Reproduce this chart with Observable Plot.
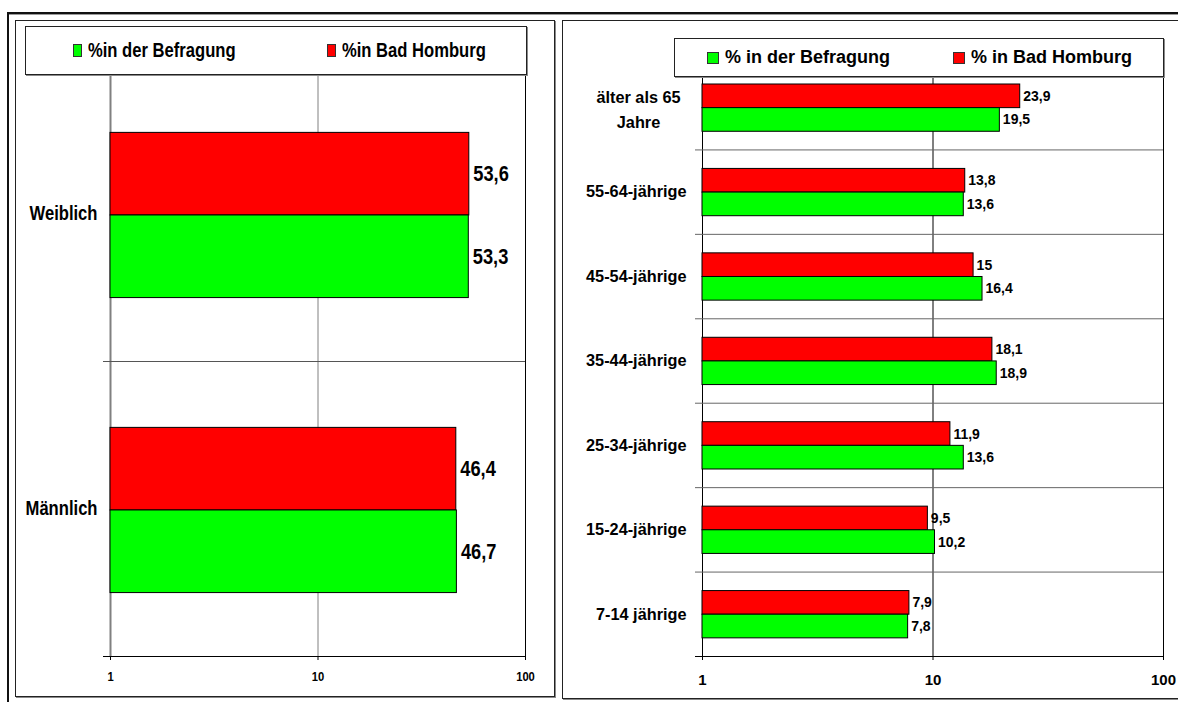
<!DOCTYPE html>
<html>
<head>
<meta charset="utf-8">
<script src="https://cdn.jsdelivr.net/npm/d3@7"></script>
<script src="https://cdn.jsdelivr.net/npm/@observablehq/plot@0.6"></script>
<style>
  html, body { margin: 0; padding: 0; background: #fff; }
  body { font-family: "Liberation Sans", Arial, sans-serif; }
  #page { position: relative; width: 1178px; height: 702px; overflow: hidden; background: #fff; }
  .line { position: absolute; }
  .panel { position: absolute; box-sizing: border-box; border: 1px solid #222; box-shadow: 1px 1px 0 #8a8a8a; }
  .chart { position: absolute; top: 0; }
  .legend { position: absolute; box-sizing: border-box; background: #fff; border: 1px solid #222;
            box-shadow: 1px 1px 0 #8a8a8a; font-weight: bold; color: #000; }
  .item { position: absolute; display: flex; align-items: center; white-space: nowrap; }
  .swatch { display: inline-block; box-sizing: border-box; border: 1px solid #333; flex: none; }
  .label { display: inline-block; transform-origin: left center; }
</style>
</head>
<body>
<div id="page">
  <div class="line" style="left:7px;top:12px;width:1171px;height:2px;background:#111"></div>
  <div class="line" style="left:9px;top:14px;width:1169px;height:1px;background:#9a9a9a"></div>
  <div class="line" style="left:7px;top:12px;width:2px;height:690px;background:#111"></div>
  <div class="panel" style="left:15px;top:20px;width:540px;height:677px"></div>
  <div class="panel" style="left:562px;top:20px;width:630px;height:679px"></div>
  <div class="chart" id="gender" style="left:0px"></div>
  <div class="chart" id="age" style="left:560px"></div>
  <div class="legend" id="legend-gender" style="left:25px;top:26px;width:502px;height:49px"></div>
  <div class="legend" id="legend-age" style="left:674px;top:38px;width:490px;height:39px"></div>
</div>
<script>
// Share of respondents vs. share of Bad Homburg population, in percent
const seriesNames = ["% in der Befragung", "% in Bad Homburg"];
const seriesColors = ["#00ff00", "#ff0000"];

const genderCategories = ["Weiblich", "Männlich"];
const genderSurvey = [53.3, 46.7];
const genderCity = [53.6, 46.4];

const ageCategories = ["älter als 65\nJahre", "55-64-jährige", "45-54-jährige", "35-44-jährige",
                       "25-34-jährige", "15-24-jährige", "7-14 jährige"];
const ageSurvey = [19.5, 13.6, 16.4, 18.9, 13.6, 10.2, 7.8];
const ageCity = [23.9, 13.8, 15, 18.1, 11.9, 9.5, 7.9];

const xTicks = [1, 10, 100];

const font = "'Liberation Sans', Arial, sans-serif";
// the gender panel uses a horizontally condensed type
const condense = 0.83;

// German decimal comma
const fmt = (v) => String(v).replace(".", ",");

// Each category occupies one unit on a linear y scale; the two bars sit in its middle,
// Bad Homburg above, Befragung below.
function rowsFor(cats, survey, city) {
  const rows = [];
  cats.forEach((cat, i) => {
    rows.push({cat, i, series: 1, value: city[i], y1: i + 0.225, y2: i + 0.505});
    rows.push({cat, i, series: 0, value: survey[i], y1: i + 0.505, y2: i + 0.785});
  });
  return rows;
}

function barPanel(o) {
  const n = o.cats.length;
  const rows = rowsFor(o.cats, o.survey, o.city);
  const labels = o.cats.map((cat, i) => ({cat, i}));
  const single = labels.filter((d) => !d.cat.includes("\n"));
  const multi = labels.filter((d) => d.cat.includes("\n"));
  const textStyle = {fontWeight: "bold", fill: "#000"};
  return Plot.plot({
    width: o.width,
    height: 702,
    marginLeft: o.marginLeft,
    marginRight: o.marginRight,
    marginTop: o.marginTop,
    marginBottom: o.marginBottom,
    style: {background: "transparent", overflow: "visible", fontFamily: font, fontSize: o.tickSize + "px"},
    x: {type: "log", domain: [1, 100]},
    y: {domain: [0, n], reverse: true, axis: null},
    marks: [
      // vertical gridlines at the decades
      Plot.ruleX(xTicks.slice(1, 2), {stroke: o.midGrid, strokeWidth: 1}),
      Plot.ruleX(xTicks.slice(2), {stroke: "#000", strokeWidth: 1}),
      Plot.ruleX(xTicks.slice(0, 1), {stroke: o.axisColor, strokeWidth: o.axisWidth}),
      // category separators, the last one doubling as the value axis line
      Plot.ruleY(d3.range(1, n + 1), {stroke: (d) => d === n ? "#000" : o.sepColor, strokeWidth: 1, insetLeft: -7}),
      Plot.axisX(xTicks, {
        tickSize: 4, tickPadding: o.tickPadding, tickFormat: (d) => String(d),
        fontSize: o.tickSize, fontWeight: "bold", label: null, stroke: "#000"
      }),
      Plot.rect(rows.filter((d) => d.series === 1), {
        x1: 1, x2: "value", y1: "y1", y2: "y2", fill: seriesColors[1], stroke: "#000", strokeWidth: 1
      }),
      Plot.rect(rows.filter((d) => d.series === 0), {
        x1: 1, x2: "value", y1: "y1", y2: "y2", fill: seriesColors[0], stroke: "#000", strokeWidth: 1
      }),
      Plot.text(rows, {
        x: "value", y: (d) => (d.y1 + d.y2) / 2, text: (d) => fmt(d.value),
        textAnchor: "start", dx: o.valueDx, fontSize: o.valueSize, ...textStyle
      }),
      Plot.text(single, {
        x: 1, y: (d) => d.i + 0.5, text: "cat", textAnchor: "end", dx: o.labelDx,
        fontSize: o.labelSize, ...textStyle
      }),
      Plot.text(multi, {
        x: 1, y: (d) => d.i + 0.5, text: "cat", textAnchor: "middle", dx: o.multiDx,
        lineHeight: 1.55, fontSize: o.labelSize, ...textStyle
      })
    ]
  });
}

// squeeze single-line SVG texts horizontally, keeping their anchor
function condenseTexts(svg, factor) {
  svg.querySelectorAll("text").forEach((t) => {
    if (t.querySelector("tspan")) return;
    const w = t.getComputedTextLength();
    if (w > 0) {
      t.setAttribute("textLength", (w * factor).toFixed(2));
      t.setAttribute("lengthAdjust", "spacingAndGlyphs");
    }
  });
}

const genderChart = barPanel({
  cats: genderCategories, survey: genderSurvey, city: genderCity,
  width: 560, marginLeft: 110, marginRight: 35, marginTop: 66, marginBottom: 46,
  midGrid: "#808080", axisColor: "#808080", axisWidth: 2, sepColor: "#555",
  tickSize: 13.5, tickPadding: 11,
  valueDx: 4, valueSize: 22, labelDx: -13, labelSize: 20, multiDx: -60
});
document.getElementById("gender").appendChild(genderChart);
condenseTexts(genderChart, condense);

const ageChart = barPanel({
  cats: ageCategories, survey: ageSurvey, city: ageCity,
  width: 618, marginLeft: 142, marginRight: 15, marginTop: 65, marginBottom: 46,
  midGrid: "#000", axisColor: "#000", axisWidth: 1, sepColor: "#666",
  tickSize: 15, tickPadding: 14,
  valueDx: 3, valueSize: 14, labelDx: -16, labelSize: 16.3, multiDx: -64
});
document.getElementById("age").appendChild(ageChart);

// Legends: Befragung first, then Bad Homburg
function legend(id, names, opts) {
  const box = document.getElementById(id);
  box.style.fontFamily = font;
  box.style.fontSize = opts.fontSize + "px";
  names.forEach((name, k) => {
    const item = document.createElement("div");
    item.className = "item";
    item.style.left = opts.lefts[k] + "px";
    item.style.top = "0px";
    item.style.height = "100%";
    const sw = document.createElement("span");
    sw.className = "swatch";
    sw.style.width = opts.swatch[0] + "px";
    sw.style.height = opts.swatch[1] + "px";
    sw.style.background = seriesColors[k];
    sw.style.marginRight = opts.gap + "px";
    const label = document.createElement("span");
    label.className = "label";
    label.style.transform = `scaleX(${opts.scale})`;
    label.textContent = opts.compact ? name.replace("% ", "%") : name;
    item.appendChild(sw);
    item.appendChild(label);
    box.appendChild(item);
  });
}
legend("legend-gender", seriesNames, {fontSize: 20, scale: condense, lefts: [47, 301], swatch: [9, 13], gap: 6, compact: true});
legend("legend-age", seriesNames, {fontSize: 18, scale: 1, lefts: [32, 278], swatch: [12, 12], gap: 6, compact: false});
</script>
</body>
</html>
